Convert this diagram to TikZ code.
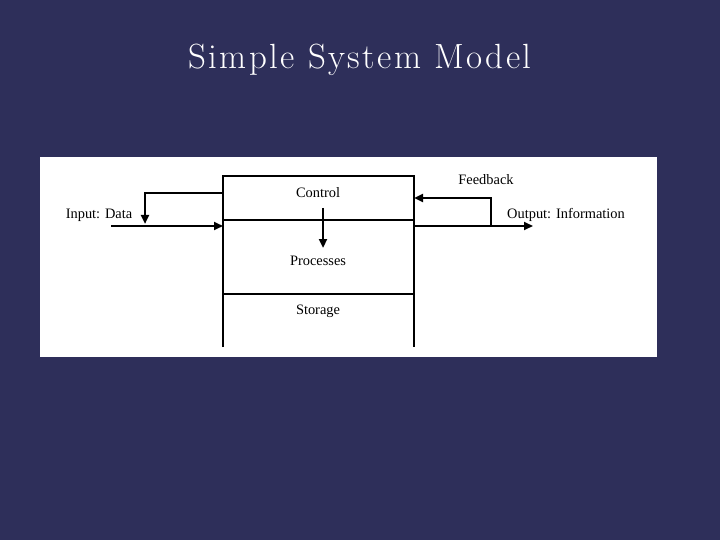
\documentclass[tikz,border=0pt]{standalone}
\usepackage{fontspec}
\setmainfont{Liberation Serif}
\newfontfamily\titlefont[LetterSpace=7]{Latin Modern Roman}
\usetikzlibrary{arrows.meta}
\definecolor{slidebg}{RGB}{46,47,90}

\begin{document}
\begin{tikzpicture}[x=1pt,y=-1pt]
	\useasboundingbox (0,0) rectangle (720,540);
	\fill [slidebg] (0,0) rectangle (720,540);
	\node [text=white,font=\titlefont\fontsize{35}{38}\selectfont] (title) at (360,60) {Simple System Model};
	\fill [white] (40,157) rectangle (657,357);
	% the system box, open at the bottom
	\draw [line width=1.2pt] (223,347) -- (223,176) -- (414,176) -- (414,347);
	\draw [line width=1.2pt] (223,220) -- (414,220);
	\draw [line width=1.2pt] (223,294) -- (414,294);
	\begin{scope}[every node/.style={font=\fontsize{14.4}{16}\selectfont}]
	\node (ctrl) at (318,193) {Control};
	\node (proc) at (318,261) {Processes};
	\node (stor) at (318,311) {Storage};
	\node (inp) at (99,215) {Input: Data};
	\node (feed) at (486,180) {Feedback};
	\node (outp) at (566,215) {Output: Information};
	\end{scope}
	\coordinate (ctrlA) at (323,208);
	\coordinate (ctrlB) at (323,248);
	\coordinate (inA) at (111,226);
	\coordinate (inB) at (223,226);
	\coordinate (loopA) at (223,193);
	\coordinate (loopB) at (145,224);
	\coordinate (outA) at (414,226);
	\coordinate (outB) at (533,226);
	\coordinate (fbA) at (491,226);
	\coordinate (fbB) at (414,198);
	\draw [line width=2.4pt,-{Triangle[length=9pt,width=8pt]}] (ctrlA) -- (ctrlB);
	\draw [line width=1.8pt,-{Triangle[length=9pt,width=8pt]}] (inA) -- (inB);
	\draw [line width=2.6pt,-{Triangle[length=9pt,width=8pt]}] (loopA) -| (loopB);
	\draw [line width=1.8pt,-{Triangle[length=9pt,width=8pt]}] (outA) -- (outB);
	\draw [line width=2.6pt,-{Triangle[length=9pt,width=8pt]}] (fbA) |- (fbB);
\end{tikzpicture}
\end{document}
